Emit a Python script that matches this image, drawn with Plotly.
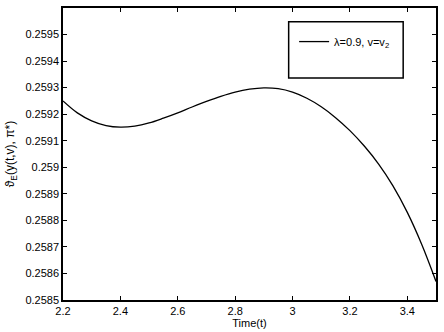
import plotly.graph_objects as go

t = [2.2, 2.25, 2.3, 2.35, 2.4, 2.45, 2.5, 2.55, 2.6, 2.65, 2.7, 2.75, 2.8, 2.85,
     2.9, 2.95, 3.0, 3.05, 3.1, 3.15, 3.2, 3.25, 3.3, 3.35, 3.4, 3.45, 3.5]
theta = [0.25925, 0.259205, 0.259175, 0.259157, 0.259151, 0.259155, 0.259167,
         0.259185, 0.259205, 0.259227, 0.259248, 0.259267, 0.259283, 0.259294,
         0.259299, 0.259296, 0.259283, 0.259260, 0.259228, 0.259187, 0.259138,
         0.259080, 0.259012, 0.258930, 0.258830, 0.258710, 0.258570]
series_name = "λ=0.9, v=v<sub>2</sub>"
x_ticks = [2.2, 2.4, 2.6, 2.8, 3.0, 3.2, 3.4]
y_ticks = [0.2585, 0.2586, 0.2587, 0.2588, 0.2589, 0.259, 0.2591, 0.2592, 0.2593, 0.2594, 0.2595]

FONT = "Liberation Sans, Arial"

fig = go.Figure()
fig.add_trace(go.Scatter(x=t, y=theta, mode="lines", name=series_name,
                         line=dict(color="black", width=1.3, shape="spline")))

axis_common = dict(showline=True, linecolor="black", linewidth=1.5, mirror="ticks",
                   ticks="inside", ticklen=4, tickcolor="black", showgrid=False,
                   zeroline=False, tickfont=dict(family=FONT, size=11, color="black"))

fig.update_layout(
    width=444, height=332,
    margin=dict(l=63, r=6, t=8, b=29),
    paper_bgcolor="white", plot_bgcolor="white",
    showlegend=True,
    legend=dict(x=0.755, y=0.885, xanchor="center", yanchor="middle",
                bgcolor="rgba(0,0,0,0)", borderwidth=0,
                font=dict(family=FONT, size=11, color="black")),
    xaxis=dict(range=[2.2, 3.5], tickvals=x_ticks,
               title=dict(text="Time(t)", standoff=1,
                          font=dict(family=FONT, size=11, color="black")),
               **axis_common),
    yaxis=dict(range=[0.2585, 0.2596], tickvals=y_ticks,
               title=dict(text="ϑ<sub>E</sub>(y(t,v), π*)", standoff=8,
                          font=dict(family=FONT, size=12, color="black")),
               **axis_common),
    shapes=[dict(type="rect", xref="paper", yref="paper",
                 x0=0.605, x1=0.912, y0=0.76, y1=0.953,
                 line=dict(color="black", width=1.5), fillcolor="rgba(0,0,0,0)")],
)

fig.write_html("out.html")
